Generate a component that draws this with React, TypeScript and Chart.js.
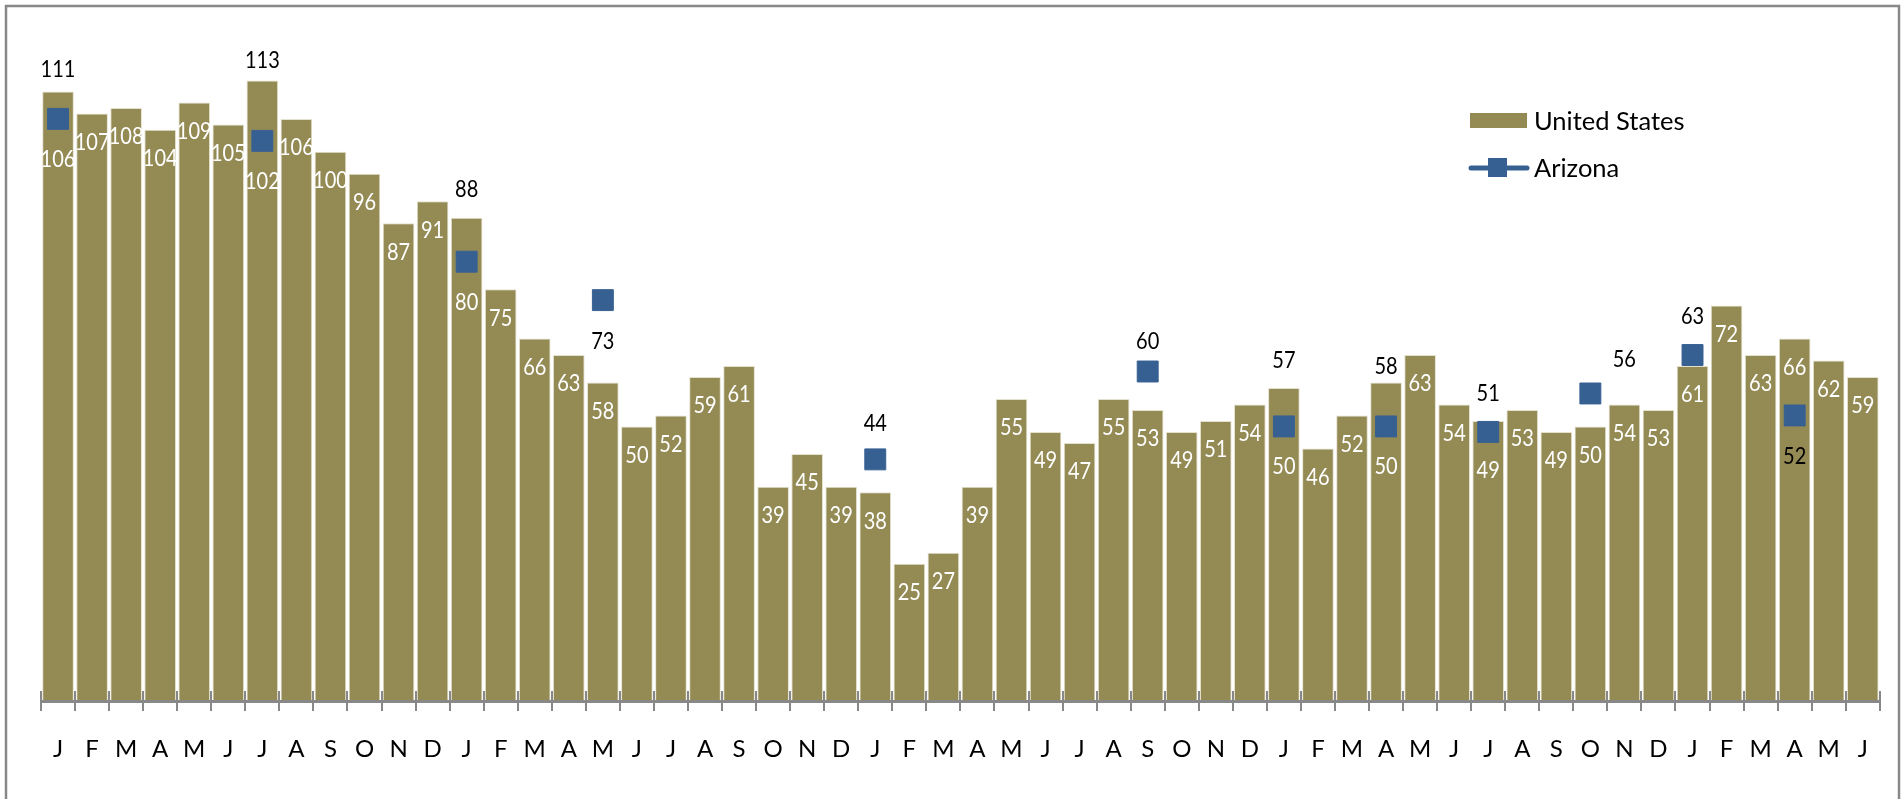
import React, { useEffect, useRef } from "react";
import { Chart, registerables } from "chart.js";

Chart.register(...registerables);

const monthLabels = [
  "J", "F", "M", "A", "M", "J", "J", "A", "S", "O", "N", "D",
  "J", "F", "M", "A", "M", "J", "J", "A", "S", "O", "N", "D",
  "J", "F", "M", "A", "M", "J", "J", "A", "S", "O", "N", "D",
  "J", "F", "M", "A", "M", "J", "J", "A", "S", "O", "N", "D",
  "J", "F", "M", "A", "M", "J",
];

const usValues = [
  111, 107, 108, 104, 109, 105, 113, 106, 100, 96, 87, 91,
  88, 75, 66, 63, 58, 50, 52, 59, 61, 39, 45, 39,
  38, 25, 27, 39, 55, 49, 47, 55, 53, 49, 51, 54,
  57, 46, 52, 58, 63, 54, 51, 53, 49, 50, 54, 53,
  61, 72, 63, 66, 62, 59,
];

const azValues = [
  106, null, null, null, null, null, 102, null, null, null, null, null,
  80, null, null, null, 73, null, null, null, null, null, null, null,
  44, null, null, null, null, null, null, null, 60, null, null, null,
  50, null, null, 50, null, null, 49, null, null, 56, null, null,
  63, null, null, 52, null, null,
];

const seriesNames = ["United States", "Arizona"];

const BAR_COLOR = "#948A54";
const AZ_COLOR = "#376092";
const FONT = "Lato, 'Open Sans', sans-serif";
const SQUEEZE = 0.87;

// label placement (style only)
const usOutsideOffsets: Record<number, number> = { 0: 22, 6: 20, 12: 28, 36: 27, 39: 16, 42: 27 };
const azLabelStyle: Record<number, { dx: number; dy: number; color: string }> = {
  0: { dx: 0, dy: 41, color: "#FFFFFF" },
  6: { dx: 0, dy: 41, color: "#FFFFFF" },
  12: { dx: 0, dy: 41, color: "#FFFFFF" },
  16: { dx: 0, dy: 41, color: "#000000" },
  24: { dx: 0, dy: -36, color: "#000000" },
  32: { dx: 0, dy: -30, color: "#000000" },
  36: { dx: 0, dy: 40, color: "#FFFFFF" },
  39: { dx: 0, dy: 40, color: "#FFFFFF" },
  42: { dx: 0, dy: 39, color: "#FFFFFF" },
  45: { dx: 34, dy: -34, color: "#000000" },
  48: { dx: 0, dy: -38, color: "#000000" },
  51: { dx: 0, dy: 41, color: "#000000" },
};

function drawText(ctx: CanvasRenderingContext2D, text: string, x: number, y: number, color: string, size: number, align: CanvasTextAlign = "center", squeeze = SQUEEZE) {
  ctx.save();
  ctx.translate(x, y);
  ctx.scale(squeeze, 1);
  ctx.font = `${size}px ${FONT}`;
  ctx.fillStyle = color;
  ctx.textAlign = align;
  ctx.textBaseline = "middle";
  ctx.fillText(text, 0, 0);
  ctx.restore();
}

const framePlugin = {
  id: "frame",
  beforeDraw(chart: any) {
    const ctx = chart.ctx;
    ctx.save();
    ctx.fillStyle = "#FFFFFF";
    ctx.fillRect(0, 0, chart.width, chart.height);
    ctx.strokeStyle = "#888888";
    ctx.lineWidth = 2.5;
    ctx.strokeRect(6, 6, 1893, 820);
    ctx.restore();
  },
};

const axisCrossPlugin = {
  id: "axisCross",
  afterDatasetsDraw(chart: any) {
    const ctx = chart.ctx;
    const xs = chart.scales.x;
    const yb = chart.chartArea.bottom;
    ctx.save();
    ctx.strokeStyle = "#888888";
    ctx.lineWidth = 3;
    ctx.beginPath();
    ctx.moveTo(xs.left, yb + 0.5);
    ctx.lineTo(xs.right, yb + 0.5);
    ctx.stroke();
    ctx.lineWidth = 2;
    const n = monthLabels.length;
    const step = (xs.getPixelForValue(1) - xs.getPixelForValue(0));
    for (let i = 0; i <= n; i++) {
      const x = Math.round(xs.getPixelForValue(i) - step / 2);
      ctx.beginPath();
      ctx.moveTo(x, yb - 10);
      ctx.lineTo(x, yb + 10);
      ctx.stroke();
    }
    ctx.restore();
  },
};

const labelPlugin = {
  id: "dataLabels",
  afterDatasetsDraw(chart: any) {
    const ctx = chart.ctx;
    const m0 = chart.getDatasetMeta(0);
    const m1 = chart.getDatasetMeta(1);
    usValues.forEach((v, i) => {
      const el = m0.data[i];
      if (!el) return;
      if (usOutsideOffsets[i] !== undefined) {
        drawText(ctx, String(v), el.x, el.y - usOutsideOffsets[i], "#000000", 23);
      } else {
        drawText(ctx, String(v), el.x, el.y + 29, "#FFFFFF", 23);
      }
    });
    azValues.forEach((v, i) => {
      if (v === null) return;
      const el = m1.data[i];
      const st = azLabelStyle[i];
      if (!el || !st) return;
      drawText(ctx, String(v), el.x + st.dx, el.y + st.dy, st.color, 23);
    });
  },
  afterDraw(chart: any) {
    const ctx = chart.ctx;
    ctx.save();
    // legend: United States
    ctx.fillStyle = BAR_COLOR;
    ctx.fillRect(1470, 113, 57, 15);
    drawText(ctx, seriesNames[0], 1534, 122, "#000000", 25.5, "left", 1);
    // legend: Arizona
    ctx.strokeStyle = AZ_COLOR;
    ctx.lineWidth = 5;
    ctx.lineCap = "round";
    ctx.beginPath();
    ctx.moveTo(1471, 168);
    ctx.lineTo(1527, 168);
    ctx.stroke();
    ctx.fillStyle = AZ_COLOR;
    ctx.fillRect(1488, 158, 19, 19);
    drawText(ctx, seriesNames[1], 1534, 169, "#000000", 25.5, "left", 1);
    ctx.restore();
  },
};

export default function App() {
  const ref = useRef<HTMLCanvasElement | null>(null);
  useEffect(() => {
    document.body.style.margin = "0";
    const canvas = ref.current;
    if (!canvas) return;
    const chart = new Chart(canvas, {
      type: "bar",
      data: {
        labels: monthLabels,
        datasets: [
          {
            type: "bar",
            label: seriesNames[0],
            data: usValues,
            backgroundColor: BAR_COLOR,
            borderColor: "#E4E1CF",
            borderWidth: 1,
            barPercentage: 0.93,
            categoryPercentage: 1,
            order: 2,
          },
          {
            type: "line",
            label: seriesNames[1],
            data: azValues,
            borderColor: AZ_COLOR,
            backgroundColor: AZ_COLOR,
            borderWidth: 5,
            spanGaps: false,
            pointStyle: "rect",
            pointRadius: 14.8,
            pointBorderWidth: 1,
            pointBackgroundColor: AZ_COLOR,
            pointBorderColor: AZ_COLOR,
            order: 1,
          },
        ],
      },
      options: {
        responsive: false,
        animation: false,
        devicePixelRatio: 1,
        layout: { padding: { left: 41, right: 12, top: 42, bottom: 0 } },
        plugins: { legend: { display: false }, tooltip: { enabled: false } },
        scales: {
          y: { display: false, min: 0, max: 120 },
          x: {
            offset: true,
            grid: { display: false, drawTicks: false },
            border: { display: false },
            ticks: {
              color: "#000000",
              font: { family: FONT, size: 24 },
              padding: 34,
              maxRotation: 0,
              autoSkip: false,
            },
            afterFit: (scale: any) => {
              scale.height = 98;
            },
          },
        },
      },
      plugins: [framePlugin, axisCrossPlugin, labelPlugin],
    });
    return () => chart.destroy();
  }, []);
  return (
    <div style={{ width: 1902, height: 799 }}>
      <canvas ref={ref} width={1902} height={799} style={{ display: "block" }} />
    </div>
  );
}
